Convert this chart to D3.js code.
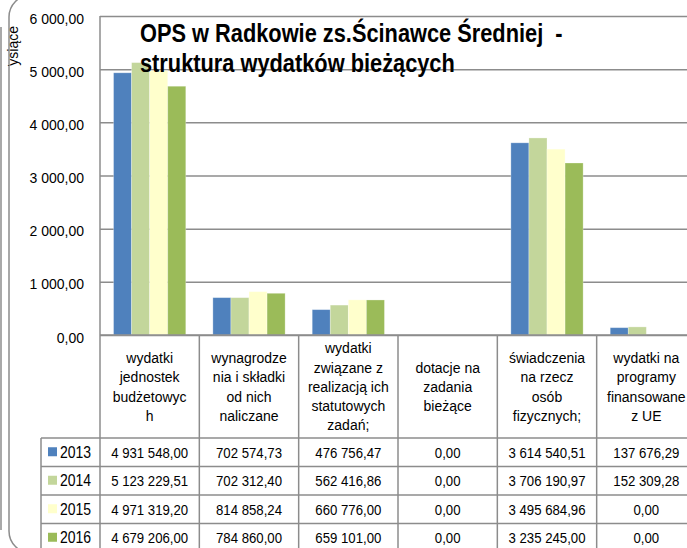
<!DOCTYPE html>
<html>
<head>
<meta charset="utf-8">
<script src="https://cdn.jsdelivr.net/npm/d3@7"></script>
<style>
  html, body { margin: 0; padding: 0; background: #fff; overflow: hidden; }
  text { font-family: "Liberation Sans", Arial, sans-serif; fill: #000; }
</style>
</head>
<body>
<div id="chart"></div>
<script>
'use strict';

// categories, line breaks as in the source table header
const categories = [
    'wydatki\njednostek\nbudżetowyc\nh',
    'wynagrodze\nnia i składki\nod nich\nnaliczane',
    'wydatki\nzwiązane z\nrealizacją ich\nstatutowych\nzadań;',
    'dotacje na\nzadania\nbieżące',
    'świadczenia\nna rzecz\nosób\nfizycznych;',
    'wydatki na\nprogramy\nfinansowane\nz UE'
];

const years = ['2013', '2014', '2015', '2016'];

const values2013 = [4931548.00, 702574.73, 476756.47, 0.00, 3614540.51, 137676.29];
const values2014 = [5123229.51, 702312.40, 562416.86, 0.00, 3706190.97, 152309.28];
const values2015 = [4971319.20, 814858.24, 660776.00, 0.00, 3495684.96, 0.00];
const values2016 = [4679206.00, 784860.00, 659101.00, 0.00, 3235245.00, 0.00];

const yTicks = [0, 1000, 2000, 3000, 4000, 5000, 6000];

const seriesColours = ['#4f81bd', '#c3d69b', '#ffffcc', '#9bbb59'];

const titleLines = ['OPS w Radkowie zs.Ścinawce Średniej  -', 'struktura wydatków bieżących'];
const axisTitle = 'Tysiące';

const series = [values2013, values2014, values2015, values2016].map(function (vals, i) {
    return { year: years[i], colour: seriesColours[i], values: vals };
});

const plPL = d3.formatLocale({ decimal: ',', thousands: '\u00a0', grouping: [3], currency: ['', ' zł'] });
const fmt = plPL.format(',.2f');

const width = 687;
const height = 548;
const plot = { left: 100, right: 696, top: 16, bottom: 335 };
const headerBottom = 438;
const rowH = 28.5;
const legendLeft = 41;
const gridColour = '#8c8c8c';

const svg = d3.select('#chart')
    .append('svg')
    .attr('width', width)
    .attr('height', height);

const xScale = d3.scaleBand()
    .domain(categories)
    .range([plot.left, plot.right])
    .paddingInner(0)
    .paddingOuter(0);

const xSub = d3.scaleBand()
    .domain(years)
    .range([0, xScale.bandwidth()])
    .paddingInner(0)
    .paddingOuter(0.75);

const yScale = d3.scaleLinear()
    .domain([0, 6000])
    .range([plot.bottom, plot.top]);

// chart area border (rounded, cut by the window)
svg.append('rect')
    .attr('x', 9)
    .attr('y', -5)
    .attr('width', 760)
    .attr('height', 558)
    .attr('rx', 22)
    .attr('fill', 'none')
    .attr('stroke', gridColour)
    .attr('stroke-width', 1.5);

svg.append('line')
    .attr('x1', 1).attr('x2', 1)
    .attr('y1', 27).attr('y2', 530)
    .attr('stroke', gridColour)
    .attr('stroke-width', 1.5);

// gridlines + tick labels
const yAxis = d3.axisLeft(yScale)
    .tickValues(yTicks)
    .tickSize(-(plot.right - plot.left))
    .tickPadding(16)
    .tickFormat(function (d) { return fmt(d); });

const yAxisG = svg.append('g')
    .attr('transform', `translate(${plot.left},0)`)
    .call(yAxis);

yAxisG.select('.domain').remove();
yAxisG.selectAll('.tick line')
    .attr('stroke', gridColour)
    .attr('stroke-width', 1.5);
yAxisG.selectAll('.tick text')
    .attr('font-size', 14)
    .attr('dy', '0.5em')
    .attr('fill', '#000')
    .style('font-family', '"Liberation Sans", Arial, sans-serif');

// axis title, clipped like in the source
svg.append('clipPath')
    .attr('id', 'axis-title-clip')
    .append('rect')
    .attr('x', 0).attr('y', 0)
    .attr('width', 30).attr('height', 66);

svg.append('g')
    .attr('clip-path', 'url(#axis-title-clip)')
    .append('text')
    .attr('transform', 'translate(18,26) rotate(-90)')
    .attr('text-anchor', 'end')
    .attr('font-size', 14)
    .text(axisTitle);

// bars
const groups = svg.append('g')
    .selectAll('g.series')
    .data(series)
    .join('g')
    .attr('class', 'series')
    .attr('fill', function (d) { return d.colour; });

groups.selectAll('rect')
    .data(function (d) {
        return d.values.map(function (v, i) {
            return { year: d.year, cat: categories[i], value: v / 1000 };
        });
    })
    .join('rect')
    .attr('x', function (d) { return xScale(d.cat) + xSub(d.year); })
    .attr('y', function (d) { return yScale(d.value); })
    .attr('width', xSub.bandwidth())
    .attr('height', function (d) { return yScale(0) - yScale(d.value); })
    .attr('stroke', '#ffffff')
    .attr('stroke-opacity', 0.35)
    .attr('stroke-width', 0.8);

// title (drawn over the bars, as in the source)
const title = svg.append('g');
titleLines.forEach(function (line, i) {
    title.append('text')
        .attr('transform', `translate(140,${42 + i * 30}) scale(1,1.18)`)
        .attr('font-size', 21.8)
        .attr('font-weight', 700)
        .style('white-space', 'pre')
        .text(line);
});

// data table
const tableBottom = headerBottom + rowH * years.length;
const table = svg.append('g')
    .attr('stroke', gridColour)
    .attr('stroke-width', 1.5);

// vertical axis line runs down through the table
table.append('line')
    .attr('x1', plot.left).attr('x2', plot.left)
    .attr('y1', plot.top).attr('y2', tableBottom);

table.append('line')
    .attr('x1', plot.left).attr('x2', plot.right)
    .attr('y1', plot.bottom).attr('y2', plot.bottom);

table.selectAll('line.col')
    .data(categories)
    .join('line')
    .attr('class', 'col')
    .attr('x1', function (d) { return xScale(d) + xScale.bandwidth(); })
    .attr('x2', function (d) { return xScale(d) + xScale.bandwidth(); })
    .attr('y1', plot.bottom)
    .attr('y2', tableBottom);

table.append('line')
    .attr('x1', legendLeft).attr('x2', legendLeft)
    .attr('y1', headerBottom).attr('y2', tableBottom);

table.selectAll('line.row')
    .data(d3.range(years.length + 1))
    .join('line')
    .attr('class', 'row')
    .attr('x1', legendLeft)
    .attr('x2', plot.right)
    .attr('y1', function (i) { return headerBottom + i * rowH; })
    .attr('y2', function (i) { return headerBottom + i * rowH; });

// header labels
const headerMid = (plot.bottom + headerBottom) / 2;
const lineH = 19.3;
categories.forEach(function (cat) {
    const lines = cat.split('\n');
    const cx = xScale(cat) + xScale.bandwidth() / 2;
    lines.forEach(function (ln, j) {
        const cy = headerMid + (j - (lines.length - 1) / 2) * lineH;
        svg.append('text')
            .attr('transform', `translate(${cx},${cy}) scale(1,1.1)`)
            .attr('text-anchor', 'middle')
            .attr('dy', '0.35em')
            .attr('font-size', 14)
            .text(ln);
    });
});

// rows: legend key + values
series.forEach(function (s, r) {
    const cy = headerBottom + r * rowH + rowH / 2;
    svg.append('rect')
        .attr('x', 48)
        .attr('y', cy - 5)
        .attr('width', 9)
        .attr('height', 9)
        .attr('fill', s.colour);
    svg.append('text')
        .attr('transform', `translate(60,${cy}) scale(1,1.12)`)
        .attr('dy', '0.36em')
        .attr('font-size', 14)
        .text(s.year);
    s.values.forEach(function (v, i) {
        svg.append('text')
            .attr('transform', `translate(${xScale(categories[i]) + xScale.bandwidth() / 2},${cy}) scale(1,1.16)`)
            .attr('dy', '0.36em')
            .attr('text-anchor', 'middle')
            .attr('font-size', 13.2)
            .text(fmt(v));
    });
});
</script>
</body>
</html>
